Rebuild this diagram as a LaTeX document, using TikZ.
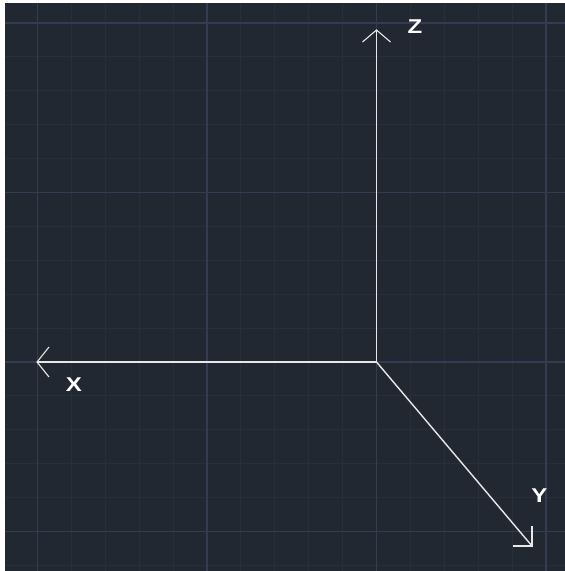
\documentclass[tikz,border=0pt]{standalone}
\usepackage{fontspec}
\setmainfont{Liberation Sans}
\usepackage{tikz}
\definecolor{board}{RGB}{34,40,49}
\definecolor{gridminor}{RGB}{40,47,59}
\definecolor{gridmajor}{RGB}{53,60,82}
\definecolor{axisink}{RGB}{232,232,232}
\tikzset{
  minorgrid/.style={draw=gridminor,line width=1pt},
  majorgrid/.style={draw=gridmajor,line width=1.4pt},
  axisline/.style={draw=axisink,line width=1.4pt},
  tipline/.style={draw=axisink,line width=1.1pt},
  axlabel/.style={font=\bfseries\fontsize{20}{20}\selectfont,text=white,inner sep=0pt},
}

\begin{document}
\begin{tikzpicture}[x=1pt,y=-1pt]
\useasboundingbox (0,0) rectangle (565,571);
\fill[white] (0,0) rectangle (565,571);
\fill[board] (5,3) rectangle (565,571);
% grid
\begin{scope}
\clip (5,3) rectangle (565,571);
\foreach \k in {-11,...,5}
  \draw[minorgrid] (376.5+33.9*\k,3) -- (376.5+33.9*\k,571);
\foreach \k in {-10,...,6}
  \draw[minorgrid] (5,362+33.9*\k) -- (565,362+33.9*\k);
\foreach \k in {-10,-5,0,5} {
  \draw[majorgrid] (376.5+33.9*\k,3) -- (376.5+33.9*\k,571);
  \draw[majorgrid] (5,362+33.9*\k) -- (565,362+33.9*\k);
}
\end{scope}
% axes
\coordinate (O) at (376.5,362);
\coordinate (zt) at (376.5,30);
\coordinate (xt) at (37,362);
\coordinate (yt) at (532,546);
\draw[axisline] (O) -- (zt);
\draw[axisline] (O) -- (xt);
\draw[axisline] (O) -- (yt);
\draw[tipline] (zt) ++(-14,12) -- (zt) -- ++(14,12);
\draw[tipline] (xt) ++(12,-15) -- (xt) -- ++(12,15);
\draw[tipline] (yt) ++(-19,0) -- (yt) -- ++(0,-20);
% labels
\node[axlabel] (zlab) at (415,26.5) {\scalebox{1.2}[1]{Z}};
\node[axlabel] (xlab) at (74,384.5) {\scalebox{1.2}[1]{X}};
\node[axlabel] (ylab) at (539.5,496) {\scalebox{1.2}[1]{Y}};
\end{tikzpicture}
\end{document}
